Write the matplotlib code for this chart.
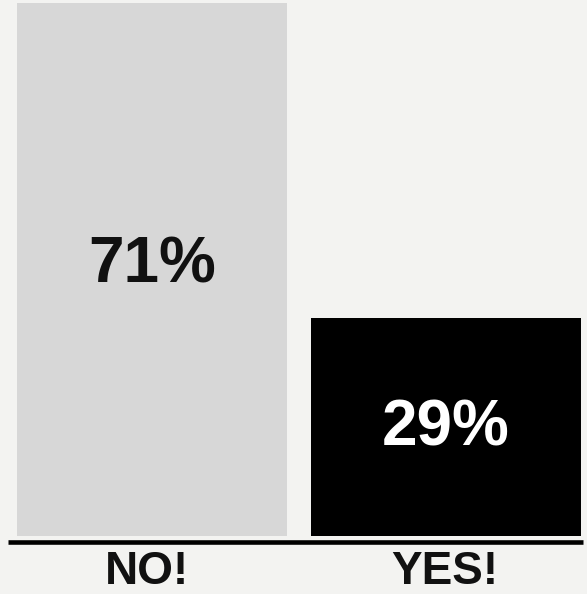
import matplotlib.pyplot as plt
from matplotlib.lines import Line2D

categories = ["NO!", "YES!"]
values = [71, 29]
labels = ["71%", "29%"]

bar_colors = ["#d7d7d7", "#000000"]
text_colors = ["#111111", "#ffffff"]
bg = "#f3f3f1"

W, H = 587, 594
fig = plt.figure(figsize=(W/100, H/100), dpi=100, facecolor=bg)
ax = fig.add_axes([0, 58/H, 1, 536/H])
ax.set_facecolor(bg)

x = [0, 1]
ax.bar(x, values, width=0.918, color=bar_colors, edgecolor="none")
ax.set_xlim(-0.517, 1.480)
ax.set_ylim(0, 71.4)
ax.axis("off")

# percentage labels inside bars (baseline positions)
label_y = [33.8, 12.1]
for i in x:
    ax.text(i, label_y[i], labels[i], ha="center", va="baseline",
            fontsize=46, fontweight="bold", family="Liberation Sans",
            color=text_colors[i])

# baseline rule
fig.add_artist(Line2D([8/W, 583/W], [52.5/H, 52.5/H], color="black",
                      lw=3.3, solid_capstyle="butt"))

# category labels
cat_x = [147, 444.5]
for cx, c in zip(cat_x, categories):
    fig.text(cx/W, 10/H, c, ha="center", va="baseline", fontsize=33,
             fontweight="bold", family="Liberation Sans", color="#111111")

fig.savefig("out.png", dpi=100, facecolor=bg)
